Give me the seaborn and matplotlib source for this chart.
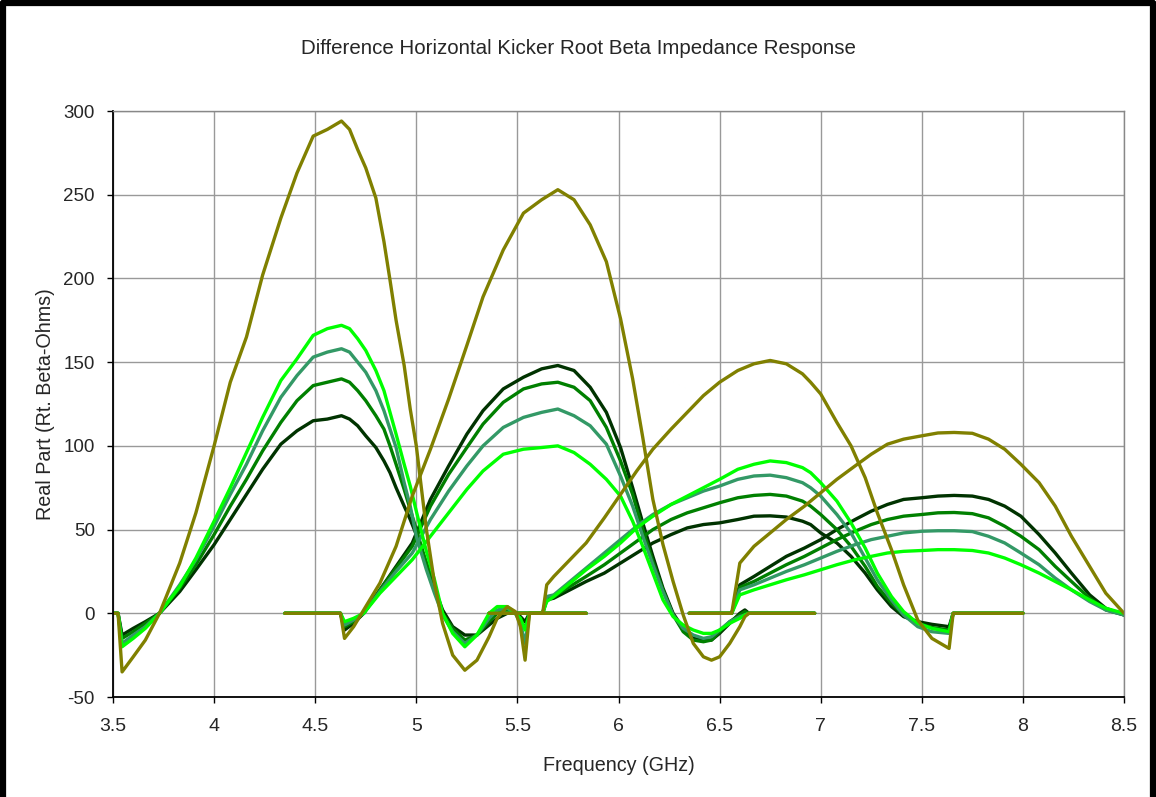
import matplotlib
matplotlib.use("Agg")
import matplotlib.pyplot as plt
import seaborn as sns
from matplotlib.lines import Line2D

# ---- data (frequency in GHz, real part in Rt. Beta-Ohms)
band1_freq = [3.50, 3.525, 3.545, 3.60, 3.66, 3.73, 3.83, 3.91, 4.00, 4.08, 4.16, 4.24, 4.33, 4.41,
              4.49, 4.56, 4.63, 4.67, 4.71, 4.75, 4.80, 4.84, 4.87, 4.90, 4.94, 4.97, 5.00, 5.05,
              5.09, 5.13, 5.18, 5.24, 5.30, 5.36, 5.40, 5.45, 5.49, 5.515, 5.538, 5.56, 5.84]
band1_olive = [0, 0, -35, -26, -16, 0, 30, 60, 100, 138, 165, 202, 236, 263, 285, 289, 294, 289, 277,
               266, 248, 222, 199, 175, 148, 122, 100, 50, 18, -6, -25, -34, -28, -14, -3, 4, 1, -8,
               -28, 0, 0]
band1_dark = [0, 0, -13, -9, -5, 0, 13, 26, 41, 56, 71, 86, 101, 109, 115, 116, 118, 116, 112, 106,
              99, 91, 84, 75, 64, 56, 47, 30, 15, 2, -8, -13, -13, -7, -3, 0, 0, -2, -5, 0, 0]
band1_green = [0, 0, -15, -11, -6, 0, 15, 29, 47, 64, 80, 97, 114, 127, 136, 138, 140, 138, 133, 127,
               118, 110, 100, 89, 74, 62, 50, 30, 14, 0, -9, -16, -13, -5, 0, 2, 0, -4, -9, 0, 0]
band1_teal = [0, 0, -18, -13, -8, 0, 17, 32, 52, 71, 89, 109, 129, 142, 153, 156, 158, 156, 150, 144,
              133, 121, 110, 99, 78, 64, 46, 26, 12, -1, -11, -18, -13, -3, 2, 3, 0, -6, -18, 0, 0]
band1_lime = [0, 0, -20, -15, -9, 0, 16, 33, 55, 75, 96, 117, 139, 152, 166, 170, 172, 170, 164, 157,
              145, 133, 120, 107, 89, 76, 61, 37, 20, 0, -12, -20, -13, 0, 4, 4, 0, -3, -10, 0, 0]

band2_freq = [4.35, 4.625, 4.645, 4.69, 4.74, 4.82, 4.90, 4.98, 5.07, 5.16, 5.25, 5.33, 5.43, 5.53,
              5.62, 5.70, 5.78, 5.86, 5.94, 6.01, 6.07, 6.12, 6.17, 6.22, 6.27, 6.32, 6.37, 6.42,
              6.46, 6.50, 6.55, 6.60, 6.625, 6.645, 6.97]
band2_olive = [0, 0, -15, -8, 2, 18, 40, 70, 98, 128, 160, 189, 217, 239, 247, 253, 247, 232, 210,
               176, 140, 105, 68, 41, 19, -1, -18, -26, -28, -26, -18, -8, -2, 0, 0]
band2_dark = [0, 0, -10, -6, 0, 14, 28, 42, 68, 88, 107, 121, 134, 141, 146, 148, 145, 135, 120, 99,
              75, 54, 34, 15, 0, -9, -15, -16, -16, -12, -6, 0, 2, 0, 0]
band2_green = [0, 0, -8, -5, 0, 14, 27, 40, 64, 83, 99, 113, 126, 134, 137, 138, 135, 127, 111, 91,
               71, 50, 31, 14, -1, -11, -16, -17, -16, -11, -5, -1, 1, 0, 0]
band2_teal = [0, 0, -7, -4, 0, 13, 25, 36, 56, 73, 88, 100, 111, 117, 120, 122, 118, 112, 101, 82,
              64, 46, 29, 13, -1, -9, -13, -15, -14, -10, -5, -2, -1, 0, 0]
band2_lime = [0, 0, -5, -3, 0, 12, 22, 32, 46, 60, 74, 85, 95, 98, 99, 100, 96, 89, 80, 70,
              55, 40, 24, 8, -2, -7, -10, -12, -12, -10, -6, -3, -1, 0, 0]

band3_freq = [5.36, 5.625, 5.645, 5.68, 5.76, 5.84, 5.93, 6.01, 6.09, 6.17, 6.26, 6.34, 6.42, 6.50,
              6.59, 6.67, 6.75, 6.83, 6.91, 6.95, 7.00, 7.08, 7.15, 7.22, 7.28, 7.35, 7.41, 7.48,
              7.55, 7.635, 7.655, 8.00]
band3_olive = [0, 0, 17, 22, 32, 42, 57, 71, 85, 98, 110, 120, 130, 138, 145, 149, 151, 149, 143, 138,
               131, 114, 100, 81, 60, 38, 17, -4, -15, -21, 0, 0]
band3_dark = [0, 0, 8, 9, 14, 19, 24, 30, 36, 42, 47, 51, 53, 54, 56, 58, 58.2, 57.5, 55, 53,
              48, 42, 34, 24, 14, 4, -2, -5, -6.6, -8, 0, 0]
band3_green = [0, 0, 9, 10, 16, 22, 29, 36, 43, 50, 56, 60, 63, 66, 69, 70.4, 71, 70, 67, 64,
               59, 50, 40, 28, 16, 6, -1, -6, -8.5, -10, 0, 0]
band3_teal = [0, 0, 10, 11, 19, 27, 36, 44, 52, 59, 65, 69, 73, 76, 80, 82, 82.5, 81, 78, 75,
              70, 59, 48, 33, 20, 8, -1, -8, -11, -12, 0, 0]
band3_lime = [0, 0, 7, 10, 18, 26, 34, 42, 51, 58, 65, 70, 75, 80, 86, 89, 91, 90, 87, 84,
              78, 67, 54, 39, 24, 10, 1, -6, -9, -11, 0, 0]

band4_freq = [6.35, 6.56, 6.60, 6.67, 6.75, 6.83, 6.92, 7.00, 7.08, 7.17, 7.25, 7.33, 7.41, 7.50,
              7.58, 7.66, 7.75, 7.83, 7.91, 7.99, 8.08, 8.16, 8.24, 8.33, 8.41, 8.50]
band4_olive = [0, 0, 30, 40, 48, 56, 64, 72, 80, 88, 95, 101, 104, 106, 107.7, 108, 107.5, 104, 98, 89,
               78, 64, 46, 28, 12, 0]
band4_dark = [0, 0, 17, 22, 28, 34, 39, 44, 50, 56, 61, 65, 68, 69, 70, 70.4, 70, 68, 64, 58,
              47, 36, 24, 11, 3, -1]
band4_green = [0, 0, 15.5, 19, 24, 29, 34, 39, 44, 49, 53, 56, 58, 59, 60, 60.2, 59.5, 57, 52, 46,
               38, 28, 19, 9, 2, -1]
band4_teal = [0, 0, 14, 17, 21, 25, 29, 33, 37, 41, 44, 46, 48, 49, 49.3, 49.3, 48.8, 46, 42, 36,
              29, 21, 14, 7, 2, -1]
band4_lime = [0, 0, 11, 14, 17, 20, 23, 26, 29, 32, 34, 36, 37, 37.5, 38, 38, 37.5, 36, 33, 29,
              24, 19, 14, 8, 3, 0]

xticks = [3.5, 4, 4.5, 5, 5.5, 6, 6.5, 7, 7.5, 8, 8.5]
xtick_labels = ["3.5", "4", "4.5", "5", "5.5", "6", "6.5", "7", "7.5", "8", "8.5"]
yticks = [-50, 0, 50, 100, 150, 200, 250, 300]

colors = {"dark": "#003300", "green": "#008000", "teal": "#339966",
          "lime": "#00ff00", "olive": "#808000"}

bands = [
    (band1_freq, {"dark": band1_dark, "green": band1_green, "teal": band1_teal,
                  "lime": band1_lime, "olive": band1_olive}),
    (band2_freq, {"dark": band2_dark, "green": band2_green, "teal": band2_teal,
                  "lime": band2_lime, "olive": band2_olive}),
    (band3_freq, {"dark": band3_dark, "green": band3_green, "teal": band3_teal,
                  "lime": band3_lime, "olive": band3_olive}),
    (band4_freq, {"dark": band4_dark, "green": band4_green, "teal": band4_teal,
                  "lime": band4_lime, "olive": band4_olive}),
]

sns.set_theme(style="white")
plt.rcParams["font.family"] = ["Liberation Sans", "DejaVu Sans"]
plt.rcParams["axes.unicode_minus"] = False

fig = plt.figure(figsize=(11.56, 7.97), dpi=100)
ax = fig.add_axes([113 / 1156, 1 - 697 / 797, 1011 / 1156, 586 / 797])

# greens first, olive on top
for key in ["dark", "green", "teal", "lime", "olive"]:
    for freq, series in bands:
        sns.lineplot(x=freq, y=series[key], ax=ax, color=colors[key], lw=2.4,
                     sort=False, estimator=None, legend=False)

ax.set_xlim(3.5, 8.5)
ax.set_ylim(-50, 300)
ax.set_xticks(xticks)
ax.set_xticklabels(xtick_labels)
ax.set_yticks(yticks)
ax.grid(True, color="#999999", lw=1.0)
ax.set_axisbelow(True)
for side in ["top", "right"]:
    ax.spines[side].set_color("#888888")
    ax.spines[side].set_linewidth(1.0)
for side in ["left", "bottom"]:
    ax.spines[side].set_color("black")
    ax.spines[side].set_linewidth(1.3)
ax.tick_params(axis="both", direction="out", length=4, width=1, color="black",
               bottom=True, left=True)
ax.tick_params(axis="x", pad=11, labelsize=14)
ax.tick_params(axis="y", pad=9, labelsize=13.5)

ax.set_xlabel("Frequency (GHz)", fontsize=14.2, labelpad=15)
ax.set_ylabel("Real Part (Rt. Beta-Ohms)", fontsize=14.2, labelpad=6)
fig.text(0.5, 1 - 49 / 797, "Difference Horizontal Kicker Root Beta Impedance Response",
         ha="center", va="center", fontsize=14.8)

# black frame round the chart area (no bottom edge)
fig.add_artist(Line2D([0.003, 0.003], [0, 0.996], transform=fig.transFigure, color="black", lw=4.5))
fig.add_artist(Line2D([0.003, 0.997], [0.996, 0.996], transform=fig.transFigure, color="black", lw=4.5))
fig.add_artist(Line2D([0.997, 0.997], [0, 0.996], transform=fig.transFigure, color="black", lw=4.5))

fig.savefig("out.png", dpi=100, facecolor="white")
